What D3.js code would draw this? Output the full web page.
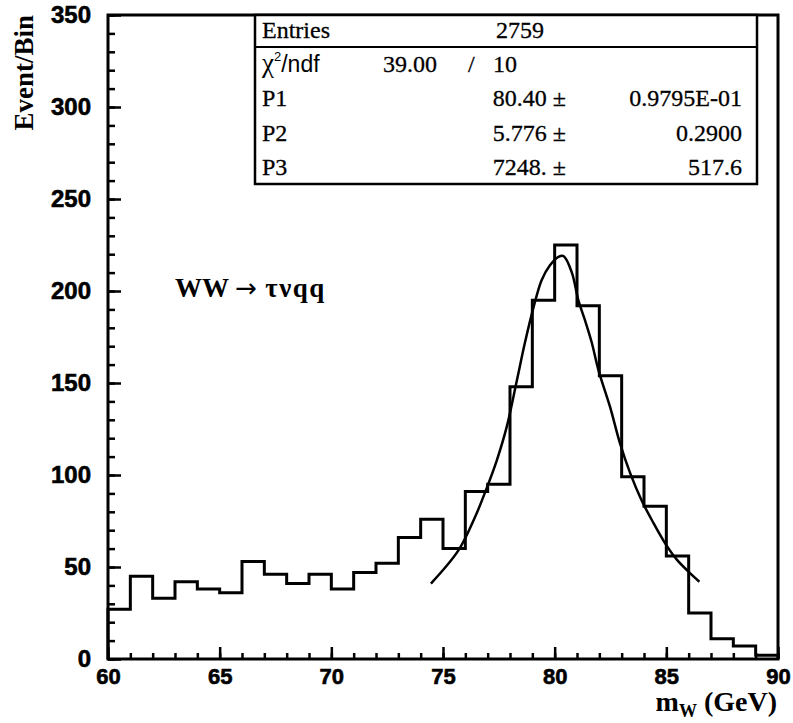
<!DOCTYPE html>
<html>
<head>
<meta charset="utf-8">
<script src="https://cdn.jsdelivr.net/npm/d3@7"></script>
<style>
  body { margin: 0; background: #fff; }
</style>
</head>
<body>
<script>
// histogram bins (lower edge, GeV) and contents
let binLow = [60, 61, 62, 63, 64, 65, 66, 67, 68, 69, 70, 71, 72, 73, 74,
              75, 76, 77, 78, 79, 80, 81, 82, 83, 84, 85, 86, 87, 88, 89];
let counts = [27, 45, 33, 42, 38, 36, 53, 46, 41, 46, 38, 47, 52, 66, 76,
              60, 91, 95, 148, 195, 225, 192, 154, 99, 83, 56, 25, 11, 7, 2];

// fitted curve
let fitMass = [74.46, 75.69, 76.43, 76.96, 77.41, 77.85, 78.3, 78.67, 79.05, 79.42,
               79.79, 80.17, 80.4, 80.77, 81.06, 81.36, 81.66, 81.96, 82.48, 82.93,
               83.38, 83.9, 84.42, 84.94, 85.47, 85.99, 86.48];
let fitValue = [41, 59, 77, 93, 108, 126, 151, 172, 191, 206,
                214, 218.6, 219, 210, 195, 184, 172, 157, 137, 117,
                101, 86, 74, 63, 54, 47.5, 42];

let xTicks = [60, 65, 70, 75, 80, 85, 90];
let yTicks = [0, 50, 100, 150, 200, 250, 300, 350];

// stats box
let entries = "2759";
let chi2 = "39.00", ndf = "10";
let parNames = ["P1", "P2", "P3"];
let parValues = ["80.40 \u00b1", "5.776 \u00b1", "7248. \u00b1"];
let parErrors = ["0.9795E-01", "0.2900", "517.6"];

let svg = d3.select("body").append("svg")
	.attr("width", 793)
	.attr("height", 723);

let margin = {top: 15, right: 15, bottom: 64, left: 108};
let width = 793 - margin.left - margin.right;
let height = 723 - margin.top - margin.bottom;

let x = d3.scaleLinear().domain([60, 90]).range([0, width]);
let y = d3.scaleLinear().domain([0, 350]).range([height, 0]);

let g = svg.append("g")
	.attr("transform", `translate(${margin.left}, ${margin.top})`);

let serif = "Liberation Serif, Times New Roman, serif";
let sans = "Liberation Sans, Arial, sans-serif";

// minor ticks
g.append("g")
	.attr("transform", `translate(0, ${height})`)
	.call(d3.axisBottom(x).tickValues(d3.range(60, 91, 1)).tickSize(-6).tickFormat(""))
	.call(a => a.select(".domain").remove())
	.call(a => a.selectAll("line").attr("stroke-width", 2.5));

g.append("g")
	.call(d3.axisLeft(y).tickValues(d3.range(0, 351, 10)).tickSize(-7).tickFormat(""))
	.call(a => a.select(".domain").remove())
	.call(a => a.selectAll("line").attr("stroke-width", 2.5));

// major ticks + labels
g.append("g")
	.attr("transform", `translate(0, ${height})`)
	.call(d3.axisBottom(x).tickValues(xTicks).tickSize(-12).tickPadding(9))
	.call(a => a.select(".domain").remove())
	.call(a => a.selectAll("line").attr("stroke-width", 2.5))
	.call(a => a.selectAll("text")
		.attr("font-family", sans)
		.attr("font-weight", "bold")
		.attr("font-size", 22)
		.attr("fill", "#000")
		.attr("stroke", "#000")
		.attr("stroke-width", 0.6));

g.append("g")
	.call(d3.axisLeft(y).tickValues(yTicks).tickSize(-13).tickPadding(17))
	.call(a => a.select(".domain").remove())
	.call(a => a.selectAll("line").attr("stroke-width", 2.5))
	.call(a => a.selectAll("text")
		.attr("font-family", sans)
		.attr("font-weight", "bold")
		.attr("font-size", 24)
		.attr("fill", "#000")
		.attr("stroke", "#000")
		.attr("stroke-width", 0.6));

// frame
g.append("rect")
	.attr("width", width)
	.attr("height", height)
	.attr("fill", "none")
	.attr("stroke", "#000")
	.attr("stroke-width", 3);

// histogram as a step outline
let pts = [[x(binLow[0]), y(0)]];
binLow.forEach((lo, i) => {
	pts.push([x(lo), y(counts[i])]);
	pts.push([x(lo + 1), y(counts[i])]);
});
pts.push([x(90), y(0)]);

g.append("path")
	.attr("d", d3.line()(pts))
	.attr("fill", "none")
	.attr("stroke", "#000")
	.attr("stroke-width", 3)
	.attr("stroke-linejoin", "miter");

// fit curve
let fitLine = d3.line()
	.x((d, i) => x(fitMass[i]))
	.y(d => y(d))
	.curve(d3.curveCatmullRom);

g.append("path")
	.attr("d", fitLine(fitValue))
	.attr("fill", "none")
	.attr("stroke", "#000")
	.attr("stroke-width", 2.5);

// stats box
let box = {x0: 255 - margin.left, x1: 757 - margin.left, y0: 0, y1: 169, split: 32};
let sb = g.append("g");
sb.append("rect")
	.attr("x", box.x0).attr("y", box.y0)
	.attr("width", box.x1 - box.x0).attr("height", box.y1 - box.y0)
	.attr("fill", "#fff").attr("stroke", "#000").attr("stroke-width", 2.5);
sb.append("line")
	.attr("x1", box.x0).attr("x2", box.x1)
	.attr("y1", box.split).attr("y2", box.split)
	.attr("stroke", "#000").attr("stroke-width", 2);

let rowY = [23, 57, 91, 126, 160];
let colL = box.x0 + 7;

function txt(tx, ty, s, anchor, family) {
	return sb.append("text")
		.attr("x", tx).attr("y", ty)
		.attr("text-anchor", anchor || "start")
		.attr("font-family", family || serif)
		.attr("font-size", 24)
		.attr("stroke", "#000")
		.attr("stroke-width", 0.3)
		.text(s);
}

txt(colL, rowY[0], "Entries");
txt(520 - margin.left, rowY[0], entries, "middle");

let chiText = sb.append("text")
	.attr("x", colL).attr("y", rowY[1])
	.attr("font-family", sans)
	.attr("font-size", 23);
chiText.append("tspan").attr("font-family", serif).attr("font-size", 27).text("\u03c7");
chiText.append("tspan").attr("font-size", 13).attr("dy", -11).text("2");
chiText.append("tspan").attr("dy", 11).text("/ndf");
txt(437 - margin.left, rowY[1], chi2, "end");
txt(468 - margin.left, rowY[1], "/");
txt(517 - margin.left, rowY[1], ndf, "end");

parNames.forEach((p, i) => {
	txt(colL, rowY[i + 2], p);
	txt(566 - margin.left, rowY[i + 2], parValues[i], "end");
	txt(742 - margin.left, rowY[i + 2], parErrors[i], "end");
});

// process label
let proc = svg.append("text")
	.attr("x", 175).attr("y", 297)
	.attr("font-family", serif)
	.attr("font-weight", "bold")
	.attr("font-size", 27);
proc.append("tspan").text("WW ");
proc.append("tspan").attr("font-family", "DejaVu Sans, sans-serif").attr("font-weight", "normal")
	.attr("font-size", 26).text("\u2192");
proc.append("tspan").attr("letter-spacing", 1.5).text(" \u03c4\u03bdqq");

// axis titles
svg.append("text")
	.attr("transform", "translate(33, 15) rotate(-90)")
	.attr("text-anchor", "end")
	.attr("font-family", serif)
	.attr("font-weight", "bold")
	.attr("font-size", 27)
	.text("Event/Bin");

let xt = svg.append("text")
	.attr("x", 777).attr("y", 711)
	.attr("text-anchor", "end")
	.attr("font-family", serif)
	.attr("font-weight", "bold")
	.attr("font-size", 28);
xt.append("tspan").text("m");
xt.append("tspan").attr("font-size", 18).attr("dy", 6).text("W");
xt.append("tspan").attr("dy", -6).text(" (GeV)");
</script>
</body>
</html>
